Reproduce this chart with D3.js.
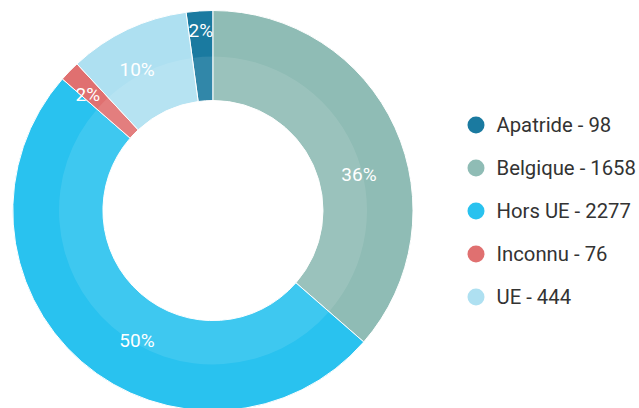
<!DOCTYPE html>
<html>
<head>
<meta charset="utf-8">
<script src="https://cdn.jsdelivr.net/npm/d3@7"></script>
<style>
  body { margin: 0; background: #fff; }
  text { font-family: Roboto, "Noto Sans", sans-serif; }
</style>
</head>
<body>
<div id="chart"></div>
<script>
var svgWidth = 639;
var svgHeight = 408;

// data
var categories = ["Apatride", "Belgique", "Hors UE", "Inconnu", "UE"];
var counts = [98, 1658, 2277, 76, 444];
var colors = ["#1a7aa0", "#8fbcb5", "#29c2ef", "#e07070", "#aee0f1"];

// label placement tweaks (degrees off mid-angle, radius)
var labelShift = [0, 10.4, -10.7, -1.2, -2.9];
var labelRadius = [180.5, 150.5, 150.2, 171, 160.6];

var cx = 213, cy = 210.5;
var outerR = 200, innerR = 110, bandR = 154;

var svg = d3.select("#chart")
    .append("svg")
    .attr("width", svgWidth)
    .attr("height", svgHeight);

var total = d3.sum(counts);
var startOffset = -(counts[0] / total) * 2 * Math.PI;

var pie = d3.pie()
    .sort(null)
    .value(d => d.count)
    .startAngle(startOffset)
    .endAngle(startOffset + 2 * Math.PI);

var data = categories.map((c, i) => ({ category: c, count: counts[i], color: colors[i], i: i }));
var arcs = pie(data);

var chartGroup = svg.append("g")
    .attr("transform", `translate(${cx}, ${cy})`);

var arc = d3.arc().innerRadius(innerR).outerRadius(outerR);
var bandArc = d3.arc().innerRadius(innerR).outerRadius(bandR);

chartGroup.selectAll("path.slice")
    .data(arcs)
    .enter()
    .append("path")
    .attr("class", "slice")
    .attr("d", arc)
    .attr("fill", d => d.data.color)
    .attr("stroke", "#fff")
    .attr("stroke-width", 1);

// lighter inner band
chartGroup.selectAll("path.band")
    .data(arcs)
    .enter()
    .append("path")
    .attr("class", "band")
    .attr("d", bandArc)
    .attr("fill", "#fff")
    .attr("fill-opacity", 0.1);

// percent labels
var format = d3.format(".0f");

chartGroup.selectAll("text.pct")
    .data(arcs)
    .enter()
    .append("text")
    .attr("class", "pct")
    .attr("transform", d => {
        var r = labelRadius[d.data.i];
        var a = (d.startAngle + d.endAngle) / 2 + labelShift[d.data.i] * Math.PI / 180;
        return `translate(${r * Math.sin(a)}, ${-r * Math.cos(a)})`;
    })
    .attr("text-anchor", "middle")
    .attr("dy", "0.35em")
    .attr("fill", "#fff")
    .style("font-size", "19px")
    .text(d => format(d.data.count / total * 100) + "%");

// legend
var legendY = d3.scalePoint()
    .domain(categories)
    .range([125, 297]);

var legend = svg.append("g");

var rows = legend.selectAll("g")
    .data(data)
    .enter()
    .append("g")
    .attr("transform", d => `translate(476, ${legendY(d.category)})`);

rows.append("circle")
    .attr("r", 8.5)
    .attr("fill", d => d.color);

rows.append("text")
    .attr("x", 20.5)
    .attr("dy", "0.35em")
    .attr("fill", "#333")
    .style("font-size", "20.3px")
    .text(d => d.category + " - " + d.count);
</script>
</body>
</html>
